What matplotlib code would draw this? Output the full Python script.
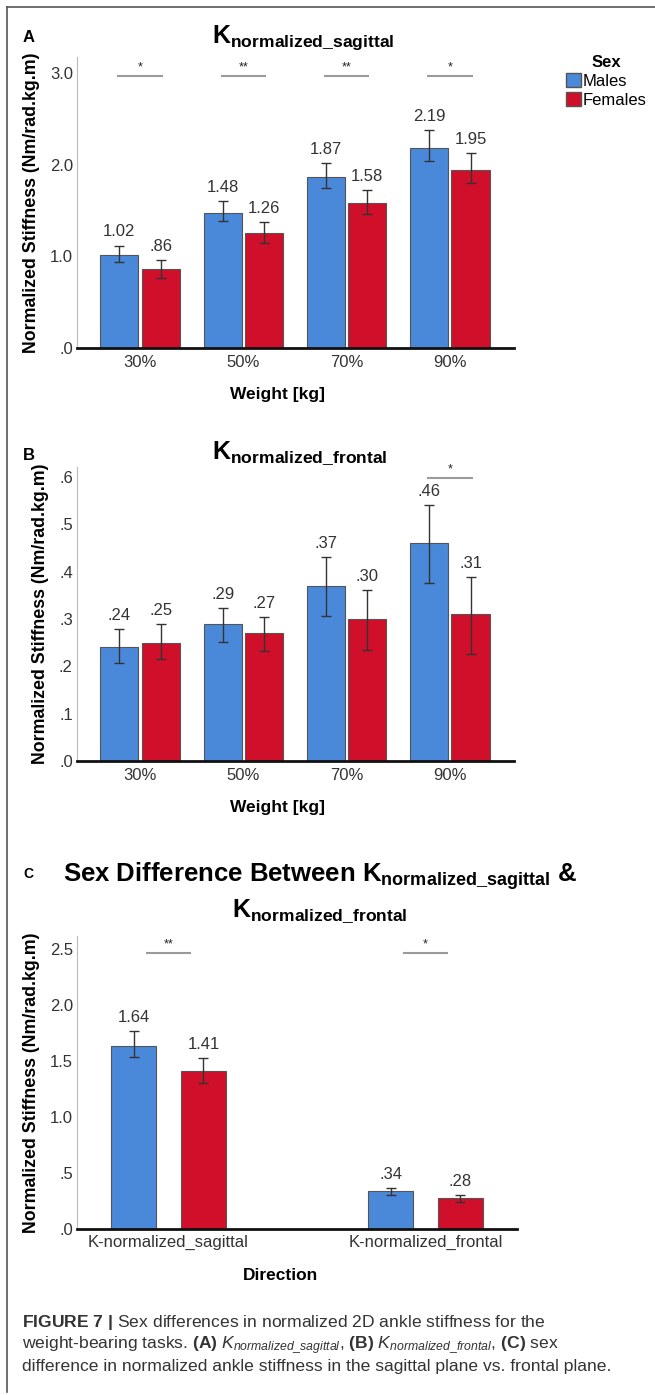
import matplotlib
matplotlib.use('Agg')
import matplotlib.pyplot as plt
from matplotlib.lines import Line2D
from matplotlib.patches import Patch

plt.rcParams['font.family'] = ['Liberation Sans', 'DejaVu Sans']
plt.rcParams['mathtext.fontset'] = 'custom'
plt.rcParams['mathtext.rm'] = 'Liberation Sans'
plt.rcParams['mathtext.it'] = 'Liberation Sans:italic'
plt.rcParams['mathtext.bf'] = 'Liberation Sans:bold'

# weight conditions (panels A and B)
weights = ['30%', '50%', '70%', '90%']

# A: K normalized sagittal, mean and 95% CI
sag_male = [1.02, 1.48, 1.87, 2.19]
sag_male_lo = [0.94, 1.39, 1.75, 2.04]
sag_male_hi = [1.12, 1.61, 2.02, 2.38]
sag_female = [0.86, 1.26, 1.58, 1.95]
sag_female_lo = [0.77, 1.15, 1.46, 1.80]
sag_female_hi = [0.96, 1.38, 1.73, 2.13]
sag_sig = ['*', '**', '**', '*']

# B: K normalized frontal
front_male = [0.24, 0.29, 0.37, 0.46]
front_male_lo = [0.206, 0.252, 0.306, 0.377]
front_male_hi = [0.278, 0.323, 0.431, 0.540]
front_female = [0.25, 0.27, 0.30, 0.31]
front_female_lo = [0.216, 0.232, 0.235, 0.225]
front_female_hi = [0.289, 0.304, 0.361, 0.389]
front_sig = ['', '', '', '*']

# C: sagittal vs frontal
directions = ['K-normalized_sagittal', 'K-normalized_frontal']
dir_male = [1.64, 0.34]
dir_male_lo = [1.542, 0.300]
dir_male_hi = [1.768, 0.366]
dir_female = [1.41, 0.28]
dir_female_lo = [1.309, 0.243]
dir_female_hi = [1.532, 0.303]
dir_sig = ['**', '*']

BLUE = '#4a88da'
RED = '#d0102b'
W, H = 655, 1395


def fx(px):
    return px / W


def fy(py):
    return 1 - py / H


def nolead(v, d):
    s = f'{v:.{d}f}'
    return s[1:] if s.startswith('0') else s


def panel(ax, cats, m, mlo, mhi, f, flo, fhi, sig, sig_y, sig_half,
          width, off, xlim, ylim, yticks):
    x = list(range(len(cats)))
    xm = [i - off for i in x]
    xf = [i + off for i in x]
    for xs, vals, lo, hi, col in [(xm, m, mlo, mhi, BLUE), (xf, f, flo, fhi, RED)]:
        ax.bar(xs, vals, width, color=col, edgecolor='#555555', linewidth=0.8, zorder=2)
        err = [[v - l for v, l in zip(vals, lo)], [h - v for v, h in zip(vals, hi)]]
        ax.errorbar(xs, vals, yerr=err, fmt='none', ecolor='#333333', elinewidth=1,
                    capsize=3.6, capthick=1, zorder=3)
        for xi, v, h in zip(xs, vals, hi):
            ax.annotate(nolead(v, 2), (xi, h), xytext=(0, 6.5), textcoords='offset points',
                        ha='center', va='baseline', fontsize=12, color='#333333')
    for i, s in enumerate(sig):
        if not s:
            continue
        ax.plot([i - sig_half, i + sig_half], [sig_y, sig_y], color='#9a9a9a', lw=1.5,
                solid_capstyle='butt', zorder=2)
        ax.annotate(s, (i, sig_y), xytext=(0, 2), textcoords='offset points',
                    ha='center', va='bottom', fontsize=9, color='#222222')
    ax.set_xlim(*xlim)
    ax.set_ylim(*ylim)
    ax.set_xticks(x)
    ax.set_xticklabels(cats)
    ax.set_yticks(yticks)
    ax.set_yticklabels([nolead(t, 1) for t in yticks])
    ax.tick_params(length=0, labelsize=12, labelcolor='#333333')
    ax.tick_params(axis='x', pad=5)
    ax.tick_params(axis='y', pad=3)
    for sp in ['top', 'right']:
        ax.spines[sp].set_visible(False)
    ax.spines['left'].set_color('#bbbbbb')
    ax.spines['left'].set_linewidth(0.8)
    ax.spines['bottom'].set_color('#111111')
    ax.spines['bottom'].set_linewidth(2)
    ax.spines['bottom'].set_zorder(4)
    ax.set_ylabel('Normalized Stiffness (Nm/rad.kg.m)', fontsize=12.8, fontweight='bold',
                  labelpad=7)


fig = plt.figure(figsize=(W / 100, H / 100), dpi=100)

# panel A
axA = fig.add_axes([fx(77), fy(348), fx(437), 291 / H])
panel(axA, weights, sag_male, sag_male_lo, sag_male_hi, sag_female, sag_female_lo,
      sag_female_hi, sag_sig, 2.97, 0.22, 0.37, 0.2, (-0.61, 3.62), (0, 3.18), [0, 1, 2, 3])
axA.set_xlabel('Weight [kg]', fontsize=12.5, fontweight='bold', labelpad=12,
               x=(278 - 77) / 437)

# panel B
axB = fig.add_axes([fx(77), fy(761), fx(437), 294 / H])
panel(axB, weights, front_male, front_male_lo, front_male_hi, front_female, front_female_lo,
      front_female_hi, front_sig, 0.598, 0.22, 0.37, 0.2, (-0.61, 3.62), (0, 0.621),
      [0, 0.1, 0.2, 0.3, 0.4, 0.5, 0.6])
axB.set_xlabel('Weight [kg]', fontsize=12.5, fontweight='bold', labelpad=12,
               x=(278 - 77) / 437)

# panel C
axC = fig.add_axes([fx(77), fy(1229), fx(440), 293 / H])
panel(axC, directions, dir_male, dir_male_lo, dir_male_hi, dir_female, dir_female_lo,
      dir_female_hi, dir_sig, 2.47, 0.0875, 0.175, 0.136, (-0.356, 1.356), (0, 2.62),
      [0, 0.5, 1.0, 1.5, 2.0, 2.5])
axC.tick_params(axis='x', pad=4)
axC.set_xlabel('Direction', fontsize=12.5, fontweight='bold', labelpad=13,
               x=(281 - 77) / 440)

# titles and panel letters
fig.text(fx(303), fy(38), r'$\mathbf{K}_{\mathbf{normalized\_sagittal}}$', ha='center',
         va='center', fontsize=18)
fig.text(fx(300), fy(453), r'$\mathbf{K}_{\mathbf{normalized\_frontal}}$', ha='center',
         va='center', fontsize=18)
fig.text(fx(320), fy(876), r'Sex Difference Between $\mathbf{K}_{\mathbf{normalized\_sagittal}}$ &',
         ha='center', va='center', fontsize=18.5, fontweight='bold')
fig.text(fx(320), fy(911), r'$\mathbf{K}_{\mathbf{normalized\_frontal}}$', ha='center',
         va='center', fontsize=18)
fig.text(fx(29), fy(38), 'A', ha='center', va='center', fontsize=12, fontweight='bold')
fig.text(fx(29), fy(455), 'B', ha='center', va='center', fontsize=12, fontweight='bold')
fig.text(fx(28), fy(874), 'C', ha='center', va='center', fontsize=10, fontweight='bold')

# legend
handles = [Patch(facecolor=BLUE, edgecolor='#555555', label='Males'),
           Patch(facecolor=RED, edgecolor='#555555', label='Females')]
leg = fig.legend(handles=handles, title='Sex', loc='upper left',
                 bbox_to_anchor=(fx(566), fy(55)), frameon=False, fontsize=12,
                 title_fontproperties={'weight': 'bold', 'size': 12},
                 handlelength=0.9, handleheight=0.9, handletextpad=0.1,
                 labelspacing=0.2, borderpad=0, borderaxespad=0)

# caption
cap = [r'$\mathbf{FIGURE\ 7\ |}$ Sex differences in normalized 2D ankle stiffness for the',
       r'weight-bearing tasks. $\mathbf{(A)}$ $K_{normalized\_sagittal}$, '
       r'$\mathbf{(B)}$ $K_{normalized\_frontal}$, $\mathbf{(C)}$ sex',
       'difference in normalized ankle stiffness in the sagittal plane vs. frontal plane.']
for yy, line in zip([1323, 1345, 1366], cap):
    fig.text(fx(22), fy(yy), line, ha='left', va='center', fontsize=12.6, color='#333333')

# frame
fig.add_artist(Line2D([fx(7), 1], [fy(7), fy(7)], color='#555555', lw=1.2,
                      transform=fig.transFigure))
fig.add_artist(Line2D([fx(7), fx(7)], [fy(7), fy(1392)], color='#555555', lw=1.2,
                      transform=fig.transFigure))

fig.savefig('out.png', dpi=100)
